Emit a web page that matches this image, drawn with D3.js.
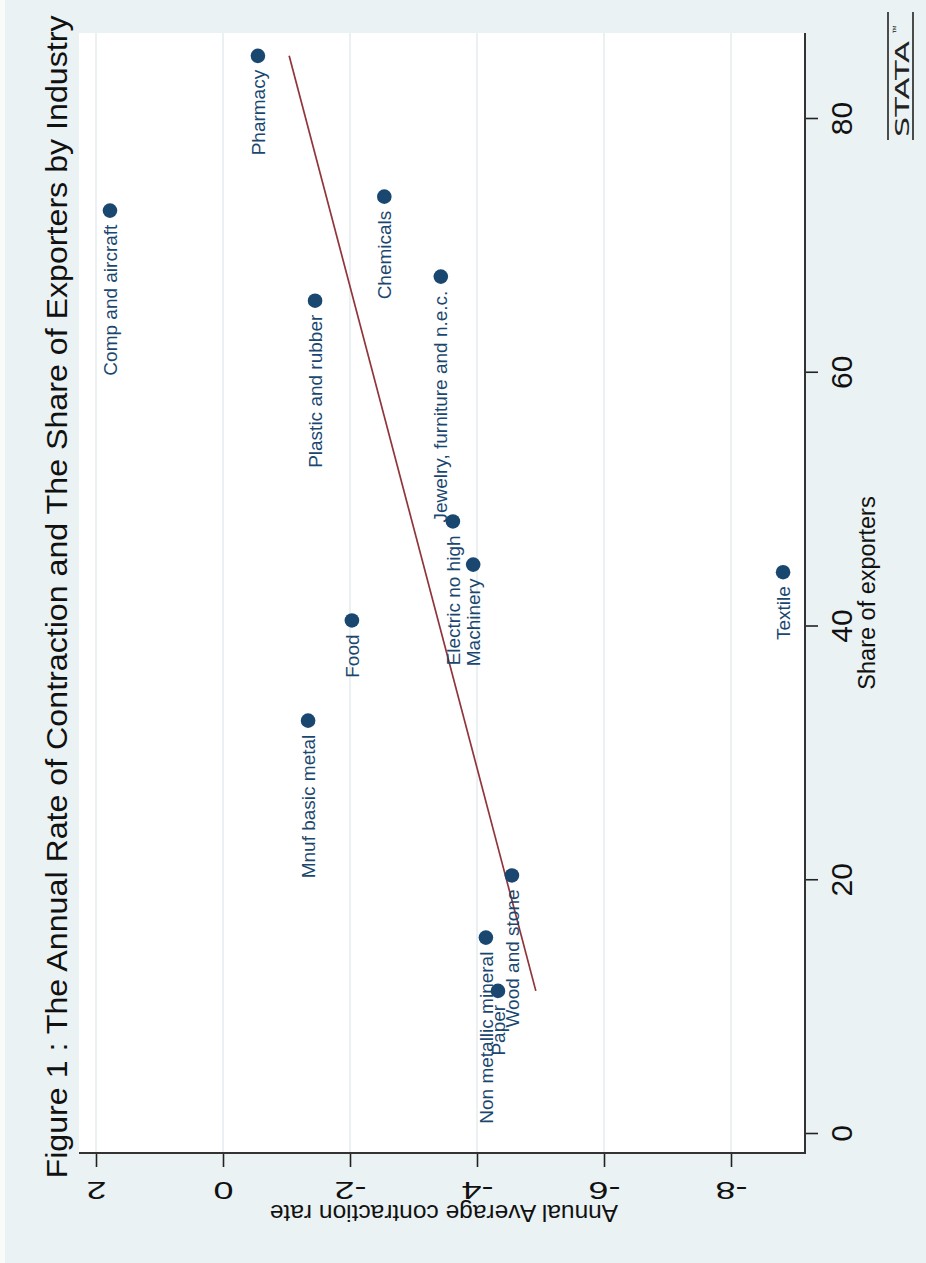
<!DOCTYPE html>
<html>
<head>
<meta charset="utf-8">
<script src="https://cdn.jsdelivr.net/npm/d3@7"></script>
<style>
  html, body { margin: 0; padding: 0; background: #ffffff; }
  svg { display: block; }
</style>
</head>
<body>
<script>
// Industries, their share of exporters (%) and annual average contraction rate (%)
const industries = [
  "Pharmacy", "Comp and aircraft", "Chemicals", "Plastic and rubber",
  "Jewelry, furniture and n.e.c.", "Electric no high", "Machinery", "Textile",
  "Food", "Mnuf basic metal", "Wood and stone", "Non metallic mineral", "Paper"
];
const shareOfExporters = [84.9, 72.7, 73.8, 65.6, 67.5, 48.2, 44.8, 44.2, 40.4, 32.5, 20.3, 15.4, 11.2];
const contractionRate = [-0.55, 1.78, -2.54, -1.45, -3.43, -3.62, -3.94, -8.82, -2.03, -1.34, -4.55, -4.14, -4.33];

const shareTicks = [0, 20, 40, 60, 80];
const rateTicks = [2, 0, -2, -4, -6, -8];

const titleText = "Figure 1 : The Annual Rate of Contraction and The Share of Exporters by Industry";
const shareTitle = "Share of exporters";
const rateTitle = "Annual Average contraction rate";

const W = 926, H = 1263;
const FONT = "'Liberation Sans', Arial, Helvetica, sans-serif";
const NAVY = "#1A476F", MAROON = "#90353B";

const svg = d3.select("body").append("svg")
  .attr("width", W).attr("height", H)
  .style("font-family", FONT);

// Graph region background
svg.append("rect").attr("width", W).attr("height", H).attr("fill", "#EAF2F3");
svg.append("rect").attr("x", 0).attr("y", 0).attr("width", 5).attr("height", H).attr("fill", "#f9fbfb");

// The whole graph is turned a quarter turn: share of exporters runs upward,
// the contraction rate runs toward the left.
const plot = { left: 79, right: 805, top: 33, bottom: 1153 };

const share = d3.scaleLinear().domain([0, 80]).range([1133, 118]);
const rate = d3.scaleLinear().domain([2, -8]).range([96, 731]);

// Plot region
svg.append("rect")
  .attr("x", plot.left).attr("y", plot.top)
  .attr("width", plot.right - plot.left).attr("height", plot.bottom - plot.top)
  .attr("fill", "#ffffff");

// Grid lines at the contraction-rate ticks
svg.append("g").selectAll("line").data(rateTicks).join("line")
  .attr("x1", d => rate(d)).attr("x2", d => rate(d))
  .attr("y1", plot.top).attr("y2", plot.bottom)
  .attr("stroke", "#e6edf0").attr("stroke-width", 1.6);

// Share-of-exporters axis (right edge)
const shareAxis = d3.axisRight(share)
  .tickValues(shareTicks).tickSize(13).tickSizeOuter(0)
  .tickFormat(d => String(d));
const gShare = svg.append("g").attr("transform", `translate(${plot.right},0)`).call(shareAxis);
gShare.select(".domain").remove();
gShare.selectAll(".tick line").attr("stroke", "#222").attr("stroke-width", 1.6);
gShare.selectAll(".tick text")
  .attr("x", null).attr("dy", null)
  .attr("transform", "translate(47,0) rotate(-90)")
  .attr("text-anchor", "middle")
  .attr("fill", "#111")
  .style("font-family", FONT).style("font-size", "30px");
svg.append("line")
  .attr("x1", plot.right).attr("x2", plot.right)
  .attr("y1", plot.top).attr("y2", plot.bottom + 1)
  .attr("stroke", "#333").attr("stroke-width", 2);

// Contraction-rate axis (bottom edge)
const rateAxis = d3.axisBottom(rate)
  .tickValues(rateTicks).tickSize(14).tickSizeOuter(0)
  .tickFormat(d => String(d));
const gRate = svg.append("g").attr("transform", `translate(0,${plot.bottom})`).call(rateAxis);
gRate.select(".domain").remove();
gRate.selectAll(".tick line").attr("stroke", "#222").attr("stroke-width", 1.6);
gRate.selectAll(".tick text")
  .attr("y", null).attr("dy", null)
  .attr("transform", "translate(0,29) rotate(180) scale(1.5,1)")
  .attr("text-anchor", "middle")
  .attr("fill", "#111")
  .style("font-family", FONT).style("font-size", "24px");
svg.append("line")
  .attr("x1", plot.left).attr("x2", plot.right + 1)
  .attr("y1", plot.bottom).attr("y2", plot.bottom)
  .attr("stroke", "#333").attr("stroke-width", 2);

// Axis titles
svg.append("text")
  .attr("transform", `translate(${(plot.left + plot.right) / 2 + 2},1205) rotate(180)`)
  .attr("text-anchor", "middle").attr("fill", "#111")
  .style("font-size", "24.5px").text(rateTitle);
svg.append("text")
  .attr("transform", `translate(875,${(plot.top + plot.bottom) / 2}) rotate(-90)`)
  .attr("text-anchor", "middle").attr("fill", "#111")
  .style("font-size", "23.5px").text(shareTitle);

// Graph title
svg.append("text")
  .attr("transform", `translate(67,597) rotate(-90)`)
  .attr("text-anchor", "middle").attr("fill", "#111")
  .attr("textLength", 1163).attr("lengthAdjust", "spacingAndGlyphs")
  .style("font-size", "30px").text(titleText);

// Linear fit of contraction rate on share of exporters
const data = industries.map((name, i) => ({ name, share: shareOfExporters[i], rate: contractionRate[i] }));
const mx = d3.mean(data, d => d.share), my = d3.mean(data, d => d.rate);
const slope = d3.sum(data, d => (d.share - mx) * (d.rate - my)) / d3.sum(data, d => (d.share - mx) ** 2);
const intercept = my - slope * mx;
const [sMin, sMax] = d3.extent(data, d => d.share);
const fit = [sMin, sMax].map(s => ({ share: s, rate: intercept + slope * s }));

svg.append("path")
  .datum(fit)
  .attr("d", d3.line().x(d => rate(d.rate)).y(d => share(d.share)))
  .attr("fill", "none").attr("stroke", MAROON).attr("stroke-width", 1.7);

// Markers
svg.append("g").selectAll("circle").data(data).join("circle")
  .attr("cx", d => rate(d.rate)).attr("cy", d => share(d.share))
  .attr("r", 7.3).attr("fill", NAVY);

// Marker labels, placed to the (turned) left of each marker
svg.append("g").selectAll("text").data(data).join("text")
  .attr("transform", d => `translate(${rate(d.rate)},${share(d.share) + 14}) rotate(-90)`)
  .attr("text-anchor", "end").attr("dy", "0.35em")
  .attr("fill", NAVY)
  .style("font-size", "19px")
  .text(d => d.name);

// Stata mark in the corner
const mark = svg.append("g");
mark.append("line").attr("x1", 888).attr("x2", 888).attr("y1", 12).attr("y2", 140).attr("stroke", "#222").attr("stroke-width", 1.6);
mark.append("line").attr("x1", 913).attr("x2", 913).attr("y1", 12).attr("y2", 140).attr("stroke", "#222").attr("stroke-width", 1.6);
mark.append("text")
  .attr("transform", "translate(909,137) rotate(-90)")
  .attr("textLength", 96).attr("lengthAdjust", "spacingAndGlyphs")
  .attr("fill", "#222")
  .style("font-family", "'DejaVu Sans', sans-serif").style("font-size", "20px")
  .text("STATA");
mark.append("text")
  .attr("transform", "translate(899,34) rotate(-90)")
  .attr("fill", "#222")
  .style("font-size", "9px")
  .text("™");
</script>
</body>
</html>
